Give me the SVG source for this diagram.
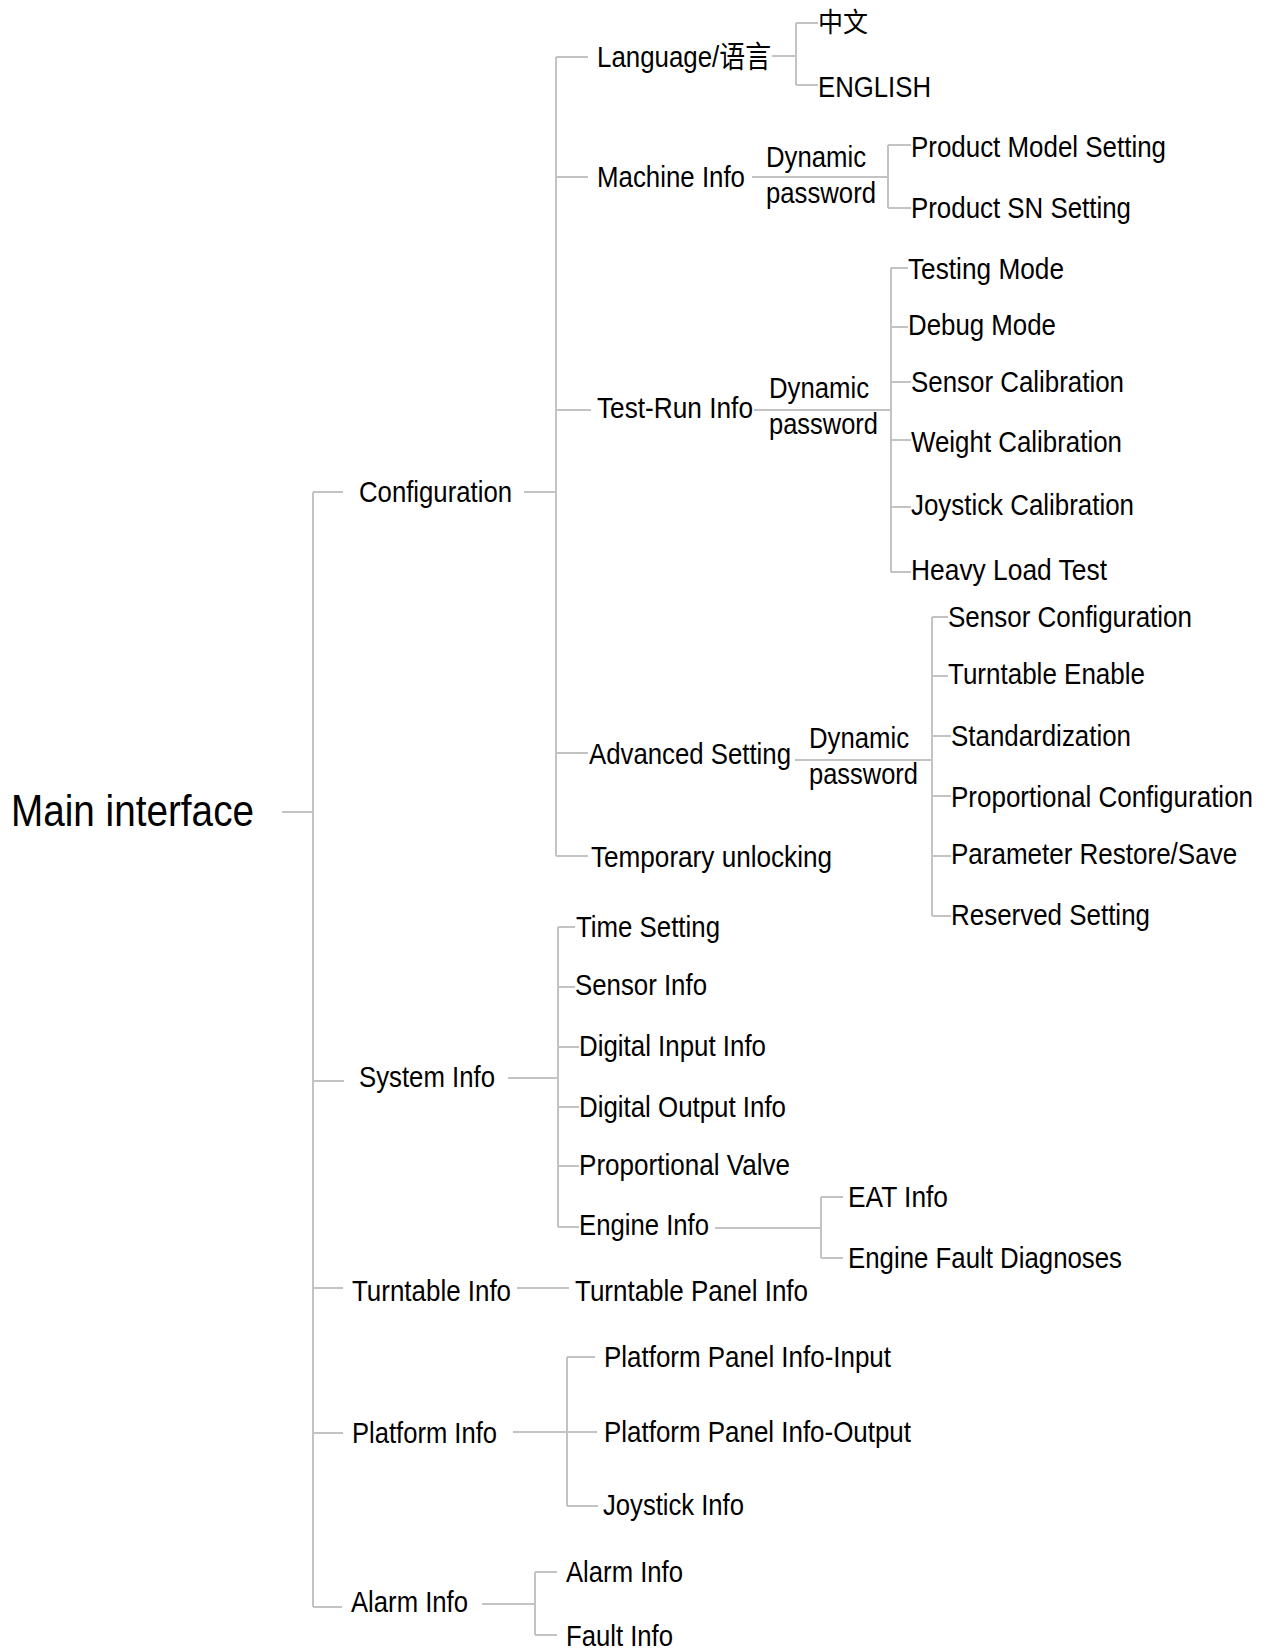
<svg xmlns="http://www.w3.org/2000/svg" width="1267" height="1649" viewBox="0 0 1267 1649">
<style>
text{font-family:"Liberation Sans","Noto Sans CJK SC",Arial,sans-serif;font-size:30px;fill:#000;}
.m{font-size:44px;}
.s{font-size:29px;}
.cjk{font-size:27px;}
#connectors path{fill:none;stroke:#c3c3c3;stroke-width:2;}
</style>
<rect width="1267" height="1649" fill="#fff"/>
<g id="connectors">
<path d="M282 812H313M313 492V1607M313 492H343M313 1081H344M313 1288H343M313 1433H343M313 1607H342"/>
<path d="M524 492H556M556 57V856M556 57H588M556 177H588M556 410H591M556 753H588M556 856H588"/>
<path d="M772 56H796M796 23V85M796 23H818M796 85H818"/>
<path d="M752 177H888M888 145V208M888 145H911M888 208H911"/>
<path d="M754 410H891M891 268V572M891 268H908M891 327H908M891 382H911M891 440H911M891 507H911M891 572H911"/>
<path d="M795 760H932M932 617V916M932 617H948M932 676H948M932 736H951M932 796H951M932 856H951M932 916H951"/>
<path d="M508 1078H558M558 927V1227M558 927H575M558 987H575M558 1047H579M558 1107H579M558 1166H579M558 1227H579"/>
<path d="M715 1228H821M821 1197V1258M821 1197H843M821 1258H843"/>
<path d="M517 1288H569"/>
<path d="M513 1432H597M567 1357V1506M567 1357H595M567 1506H598"/>
<path d="M482 1604H535M535 1572V1635M535 1572H557M535 1635H557"/>
</g>
<g id="main"><text class="m" x="11" y="826" textLength="243" lengthAdjust="spacingAndGlyphs">Main interface</text></g>
<g id="configuration"><text x="359" y="502" textLength="153" lengthAdjust="spacingAndGlyphs">Configuration</text></g>
<g id="language"><text x="597" y="67" textLength="174" lengthAdjust="spacingAndGlyphs">Language/语言</text></g>
<g id="zh"><text class="cjk" x="818" y="32" textLength="50" lengthAdjust="spacingAndGlyphs">中文</text></g>
<g id="english"><text x="818" y="97" textLength="113" lengthAdjust="spacingAndGlyphs">ENGLISH</text></g>
<g id="machine-info"><text x="597" y="187" textLength="148" lengthAdjust="spacingAndGlyphs">Machine Info</text></g>
<g id="machine-pw"><text class="s" x="766" y="167" textLength="100" lengthAdjust="spacingAndGlyphs">Dynamic</text><text class="s" x="766" y="203" textLength="110" lengthAdjust="spacingAndGlyphs">password</text></g>
<g id="product-model"><text x="911" y="157" textLength="255" lengthAdjust="spacingAndGlyphs">Product Model Setting</text></g>
<g id="product-sn"><text x="911" y="218" textLength="220" lengthAdjust="spacingAndGlyphs">Product SN Setting</text></g>
<g id="test-run"><text x="597" y="418" textLength="156" lengthAdjust="spacingAndGlyphs">Test-Run Info</text></g>
<g id="test-pw"><text class="s" x="769" y="398" textLength="100" lengthAdjust="spacingAndGlyphs">Dynamic</text><text class="s" x="769" y="434" textLength="109" lengthAdjust="spacingAndGlyphs">password</text></g>
<g id="testing-mode"><text x="908" y="279" textLength="156" lengthAdjust="spacingAndGlyphs">Testing Mode</text></g>
<g id="debug-mode"><text x="908" y="335" textLength="148" lengthAdjust="spacingAndGlyphs">Debug Mode</text></g>
<g id="sensor-cal"><text x="911" y="392" textLength="213" lengthAdjust="spacingAndGlyphs">Sensor Calibration</text></g>
<g id="weight-cal"><text x="911" y="452" textLength="211" lengthAdjust="spacingAndGlyphs">Weight Calibration</text></g>
<g id="joystick-cal"><text x="911" y="515" textLength="223" lengthAdjust="spacingAndGlyphs">Joystick Calibration</text></g>
<g id="heavy-load"><text x="911" y="580" textLength="196" lengthAdjust="spacingAndGlyphs">Heavy Load Test</text></g>
<g id="advanced"><text x="589" y="764" textLength="202" lengthAdjust="spacingAndGlyphs">Advanced Setting</text></g>
<g id="adv-pw"><text class="s" x="809" y="748" textLength="100" lengthAdjust="spacingAndGlyphs">Dynamic</text><text class="s" x="809" y="784" textLength="109" lengthAdjust="spacingAndGlyphs">password</text></g>
<g id="sensor-config"><text x="948" y="627" textLength="244" lengthAdjust="spacingAndGlyphs">Sensor Configuration</text></g>
<g id="turntable-enable"><text x="948" y="684" textLength="197" lengthAdjust="spacingAndGlyphs">Turntable Enable</text></g>
<g id="standardization"><text x="951" y="746" textLength="180" lengthAdjust="spacingAndGlyphs">Standardization</text></g>
<g id="prop-config" transform="translate(951 807) scale(0.867 1)"><text x="0" y="0">Proportional Configuration</text></g>
<g id="param-restore" transform="translate(951 864) scale(0.867 1)"><text x="0" y="0">Parameter Restore/Save</text></g>
<g id="reserved"><text x="951" y="925" textLength="199" lengthAdjust="spacingAndGlyphs">Reserved Setting</text></g>
<g id="temp-unlock"><text x="591" y="867" textLength="241" lengthAdjust="spacingAndGlyphs">Temporary unlocking</text></g>
<g id="system-info"><text x="359" y="1087" textLength="136" lengthAdjust="spacingAndGlyphs">System Info</text></g>
<g id="time-setting"><text x="576" y="937" textLength="144" lengthAdjust="spacingAndGlyphs">Time Setting</text></g>
<g id="sensor-info"><text x="575" y="995" textLength="132" lengthAdjust="spacingAndGlyphs">Sensor Info</text></g>
<g id="digital-input"><text x="579" y="1056" textLength="187" lengthAdjust="spacingAndGlyphs">Digital Input Info</text></g>
<g id="digital-output"><text x="579" y="1117" textLength="207" lengthAdjust="spacingAndGlyphs">Digital Output Info</text></g>
<g id="prop-valve"><text x="579" y="1175" textLength="211" lengthAdjust="spacingAndGlyphs">Proportional Valve</text></g>
<g id="engine-info"><text x="579" y="1235" textLength="130" lengthAdjust="spacingAndGlyphs">Engine Info</text></g>
<g id="eat-info"><text x="848" y="1207" textLength="100" lengthAdjust="spacingAndGlyphs">EAT Info</text></g>
<g id="engine-fault"><text x="848" y="1268" textLength="274" lengthAdjust="spacingAndGlyphs">Engine Fault Diagnoses</text></g>
<g id="turntable-info"><text x="352" y="1301" textLength="159" lengthAdjust="spacingAndGlyphs">Turntable Info</text></g>
<g id="turntable-panel"><text x="575" y="1301" textLength="233" lengthAdjust="spacingAndGlyphs">Turntable Panel Info</text></g>
<g id="platform-info"><text x="352" y="1443" textLength="145" lengthAdjust="spacingAndGlyphs">Platform Info</text></g>
<g id="platform-input"><text x="604" y="1367" textLength="287" lengthAdjust="spacingAndGlyphs">Platform Panel Info-Input</text></g>
<g id="platform-output"><text x="604" y="1442" textLength="307" lengthAdjust="spacingAndGlyphs">Platform Panel Info-Output</text></g>
<g id="joystick-info"><text x="603" y="1515" textLength="141" lengthAdjust="spacingAndGlyphs">Joystick Info</text></g>
<g id="alarm-info"><text x="351" y="1612" textLength="117" lengthAdjust="spacingAndGlyphs">Alarm Info</text></g>
<g id="alarm-info-child"><text x="566" y="1582" textLength="117" lengthAdjust="spacingAndGlyphs">Alarm Info</text></g>
<g id="fault-info"><text x="566" y="1646" textLength="107" lengthAdjust="spacingAndGlyphs">Fault Info</text></g>
</svg>
